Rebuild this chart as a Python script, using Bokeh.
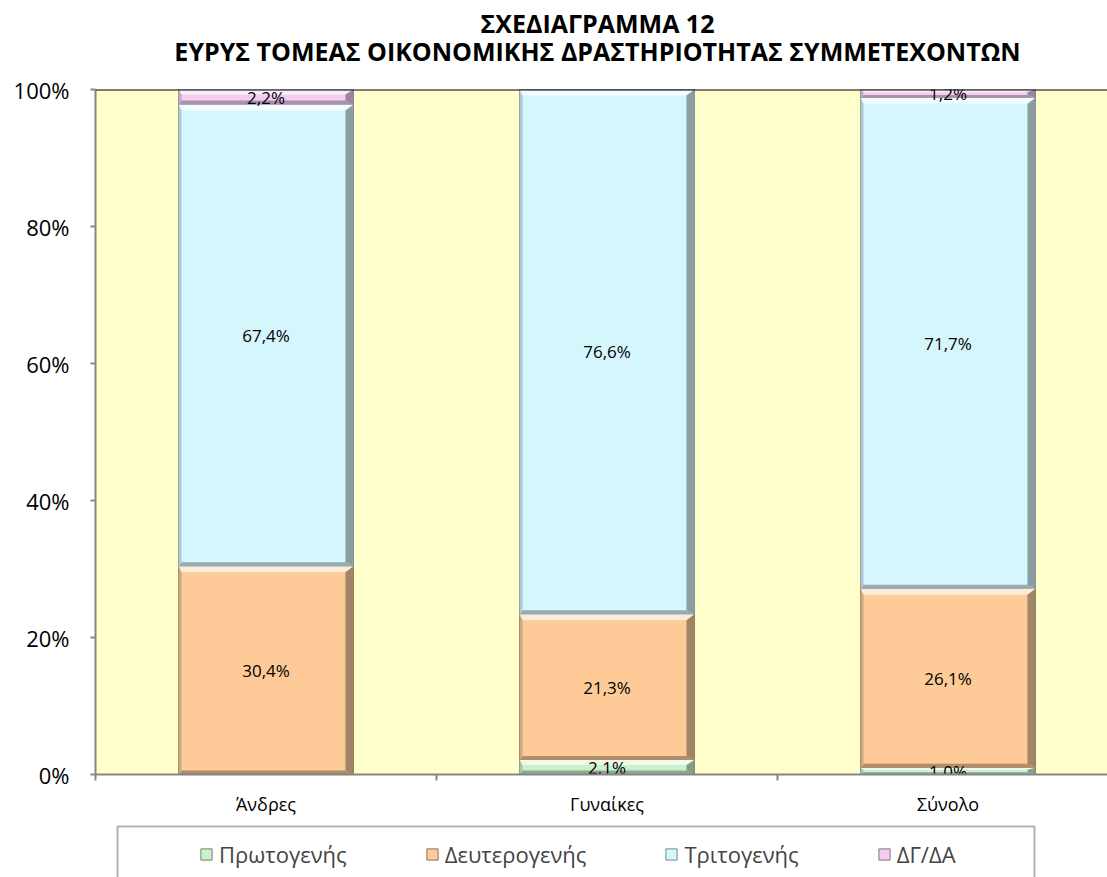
import numpy as np
from bokeh.plotting import figure
from bokeh.layouts import column
from bokeh.models import (Range1d, FixedTicker, Span, Legend, LegendItem,
                          BoxAnnotation, ColumnDataSource)
from bokeh.core.properties import value
from bokeh.embed import file_html
from bokeh.resources import INLINE

# ---------------- data ----------------
categories = ["Άνδρες", "Γυναίκες", "Σύνολο"]
series_names = ["Πρωτογενής", "Δευτερογενής", "Τριτογενής", "ΔΓ/ΔΑ"]
primary = [0.0, 2.1, 1.0]
secondary = [30.4, 21.3, 26.1]
tertiary = [67.4, 76.6, 71.7]
unknown = [2.2, 0.0, 1.2]
y_ticks = [0, 20, 40, 60, 80, 100]
y_tick_labels = ["0%", "20%", "40%", "60%", "80%", "100%"]
title_lines = ["ΣΧΕΔΙΑΓΡΑΜΜΑ 12",
               "ΕΥΡΥΣ ΤΟΜΕΑΣ ΟΙΚΟΝΟΜΙΚΗΣ ΔΡΑΣΤΗΡΙΟΤΗΤΑΣ ΣΥΜΜΕΤΕΧΟΝΤΩΝ"]

# ---------------- style ----------------
colors = ["#ccf0cc", "#fdca98", "#d6f6fd", "#f4cdf2"]
FONT = "Open Sans"
W = 1107
H_TITLE = 74
H_MAIN = 744
H_LEG = 877 - H_TITLE - H_MAIN
BL, BR, BT, BB = 95, 0, 15, 44
frame_w = W - BL - BR
frame_h = H_MAIN - BT - BB
cat_px = 341.0
x_end = frame_w / cat_px
px_x = 1.0 / cat_px
px_y = 100.0 / frame_h
bar_w = 0.513


def blend(hexc, other, t):
    c = [int(hexc[i:i + 2], 16) for i in (1, 3, 5)]
    o = [int(other[i:i + 2], 16) for i in (1, 3, 5)]
    m = [round(a * (1 - t) + b * t) for a, b in zip(c, o)]
    return "#%02x%02x%02x" % tuple(m)


def strip(height):
    f = figure(width=W, height=height, output_backend="svg", toolbar_location=None,
               x_range=Range1d(BL, W), y_range=Range1d(0, height),
               x_axis_type=None, y_axis_type=None, title=None,
               min_border=0, min_border_left=0, min_border_right=0,
               min_border_top=0, min_border_bottom=0)
    f.outline_line_color = None
    f.xgrid.visible = False
    f.ygrid.visible = False
    f.background_fill_color = "white"
    f.border_fill_color = "white"
    return f


# ---------------- title strip ----------------
tf = strip(H_TITLE)
tf.text(x=[597, 597], y=[H_TITLE - 22, H_TITLE - 50], text=title_lines,
        text_font=value(FONT), text_font_size="25px", text_font_style="bold",
        text_align="center", text_baseline="middle", text_color="black")

# ---------------- main chart ----------------
p = figure(width=W, height=H_MAIN, output_backend="svg", toolbar_location=None,
           x_range=Range1d(0, x_end), y_range=Range1d(0, 100),
           min_border_left=BL, min_border_right=BR,
           min_border_top=BT, min_border_bottom=BB, title=None)
p.background_fill_color = "#ffffcc"
p.border_fill_color = "white"
p.outline_line_color = None
p.xgrid.visible = False
p.ygrid.visible = False

ya = p.yaxis[0]
ya.ticker = FixedTicker(ticks=y_ticks, minor_ticks=[])
ya.major_label_overrides = {t: l for t, l in zip(y_ticks, y_tick_labels)}
ya.major_tick_out = 5
ya.major_tick_in = 0
ya.major_label_standoff = 21
ya.axis_line_color = "#868686"
ya.axis_line_width = 2
ya.major_tick_line_color = "#868686"
ya.major_tick_line_width = 2
ya.major_label_text_font = FONT
ya.major_label_text_font_size = "22px"
ya.major_label_text_color = "black"

centers = [i + 0.5 for i in range(len(categories))]
xa = p.xaxis[0]
xa.ticker = FixedTicker(ticks=centers, minor_ticks=list(range(len(categories) + 1)))
xa.major_label_overrides = {c: n for c, n in zip(centers, categories)}
xa.major_tick_out = 0
xa.major_tick_in = 0
xa.minor_tick_out = 6
xa.minor_tick_in = 0
xa.minor_tick_line_color = "#868686"
xa.minor_tick_line_width = 2
xa.major_label_standoff = 11
xa.axis_line_color = "#868686"
xa.axis_line_width = 2
xa.major_label_text_font = FONT
xa.major_label_text_font_size = "18px"
xa.major_label_text_color = "black"

series = [primary, secondary, tertiary, unknown]
vals = np.array(series, dtype=float)
tops = np.cumsum(vals, axis=0)
bottoms = tops - vals

lab_x, lab_y, lab_t = [], [], []
bxs, bys, bcs = [], [], []
lefts = [c - bar_w / 2 for c in centers]
rights = [c + bar_w / 2 for c in centers]
for si, col in enumerate(colors):
    src = ColumnDataSource(dict(left=lefts, right=rights,
                                bottom=list(bottoms[si]), top=list(tops[si])))
    p.quad(left="left", right="right", bottom="bottom", top="top", source=src,
           fill_color=col, line_color=blend(col, "#000000", 0.45), line_width=1)
    for ci, c in enumerate(centers):
        v = vals[si, ci]
        if v <= 0:
            continue
        L, R = lefts[ci], rights[ci]
        B, T = bottoms[si, ci], tops[si, ci]
        hpx = v / px_y
        bvy = min(6.0, hpx / 3.0) * px_y
        bvy_b = min(4.0, hpx / 3.0) * px_y
        bx = 8 * px_x
        bl = 3 * px_x
        bxs.append([L, R, R - bx, L + bl]); bys.append([T, T, T - bvy, T - bvy])
        bcs.append(blend(col, "#ffffff", 0.65))
        bxs.append([L, R, R - bx, L + bl]); bys.append([B, B, B + bvy_b, B + bvy_b])
        bcs.append(blend(col, "#000000", 0.3))
        bxs.append([R, R, R - bx, R - bx]); bys.append([T, B, B + bvy_b, T - bvy])
        bcs.append(blend(col, "#303030", 0.45))
        bxs.append([L, L, L + bl, L + bl]); bys.append([T, B, B + bvy_b, T - bvy])
        bcs.append(blend(col, "#404040", 0.25))
        lab_x.append(c)
        lab_y.append((B + T) / 2)
        lab_t.append(("%.1f" % v).replace(".", ",") + "%")

p.patches(xs=bxs, ys=bys, fill_color=bcs, line_color=None)

p.text(x=lab_x, y=lab_y, text=lab_t, text_font=value(FONT), text_font_size="17px",
       text_align="center", text_baseline="middle", text_color="black")

p.add_layout(Span(location=y_ticks[-1], dimension="width", line_color="black",
                  line_width=2))

# ---------------- legend strip ----------------
lf = strip(H_LEG)
nan = float("nan")
leg_renderers = []
for col in colors:
    r = lf.quad(left=[nan], right=[nan], bottom=[nan], top=[nan], fill_color=col,
                line_color=blend(col, "#000000", 0.45), line_width=1)
    leg_renderers.append(r)

legend = Legend(items=[LegendItem(label=n, renderers=[r]) for n, r in zip(series_names, leg_renderers)],
                orientation="horizontal", location=(104, 8), padding=0, margin=0,
                spacing=78, glyph_width=14, glyph_height=14, label_standoff=6,
                label_text_font=FONT, label_text_font_size="22px",
                border_line_alpha=0, background_fill_alpha=0)
lf.add_layout(legend, "center")

box = BoxAnnotation(left=117, right=1034, top=H_LEG - 8, bottom=-20,
                    fill_color=None, line_color="black", line_width=2)
lf.add_layout(box)

layout = column(tf, p, lf, spacing=0)
open("out.html", "w").write(file_html(layout, INLINE))
